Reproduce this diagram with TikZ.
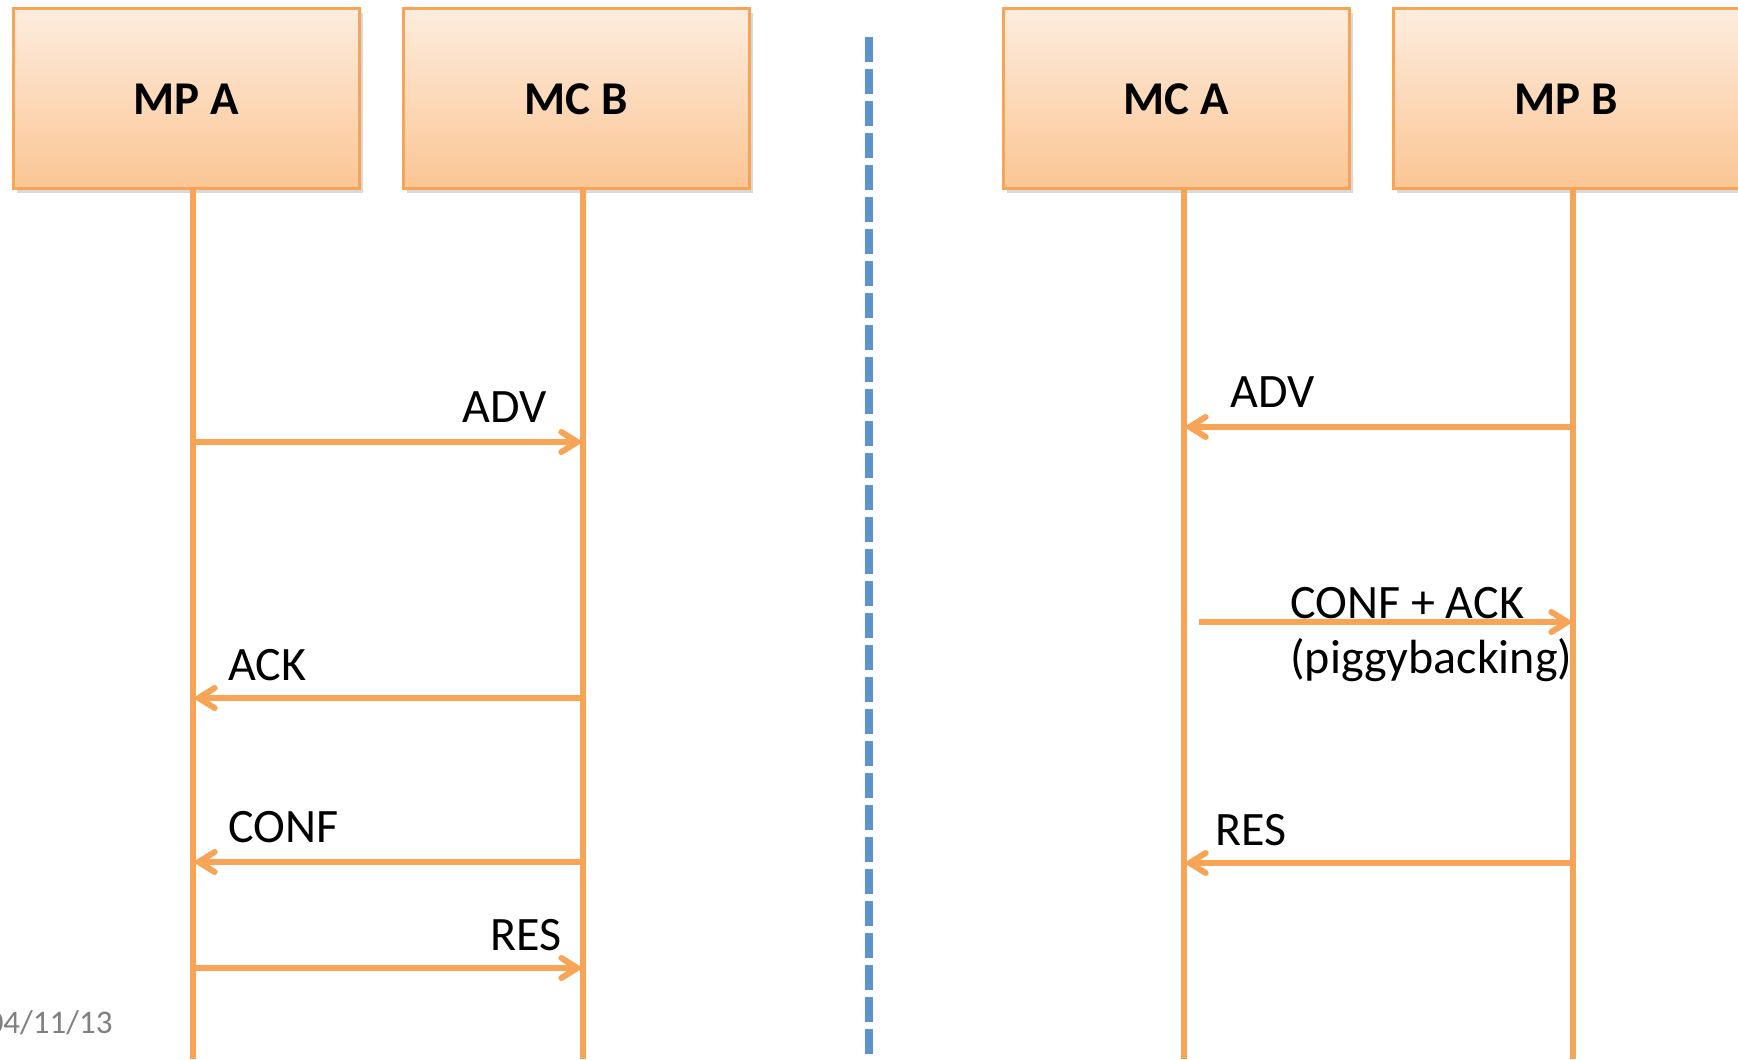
\documentclass[tikz,border=0pt]{standalone}
\usepackage{fontspec}
\setmainfont{Carlito}
\usetikzlibrary{arrows.meta,shadows}

\definecolor{boxline}{RGB}{248,164,86}
\definecolor{boxtop}{RGB}{253,236,222}
\definecolor{boxbot}{RGB}{251,198,148}
\definecolor{sepblue}{RGB}{91,148,205}
\definecolor{dategray}{RGB}{128,128,128}

\begin{document}
\begin{tikzpicture}[x=0.5pt,y=-0.5pt,>={Straight Barb[length=8pt,width=10pt,line cap=round]},
                    node distance=195pt,
    entity/.style={rectangle,draw=boxline,line width=1.5pt,top color=boxtop,bottom color=boxbot,
                   minimum width=173pt,minimum height=90pt,inner sep=0pt,
                   font=\fontsize{23.5}{28}\selectfont\bfseries,
                   drop shadow={shadow xshift=2pt,shadow yshift=-2pt,opacity=0.3}},
    life/.style={draw=boxline,line width=3pt},
    msg/.style={draw=boxline,line width=3pt,->},
    lbl/.style={font=\fontsize{24}{27.5}\selectfont,inner sep=0pt}]
  \useasboundingbox (0,0) rectangle (1738,1059);

  % the four parties
  \node[entity] (mpA) at (186,99) {MP A};
  \node[entity] (mcB) [right of=mpA] {MC B};
  \node[entity] (mcA) at (1176,99) {MC A};
  \node[entity] (mpB) [right of=mcA] {MP B};

  \coordinate (mpAend) at (193,1059);
  \coordinate (mcBend) at (583,1059);
  \coordinate (mcAend) at (1184,1059);
  \coordinate (mpBend) at (1573,1059);

  \draw[life] (mpAend |- mpA.south) -- (mpAend);
  \draw[life] (mcBend |- mcB.south) -- (mcBend);
  \draw[life] (mcAend |- mcA.south) -- (mcAend);
  \draw[life] (mpBend |- mpB.south) -- (mpBend);

  % separator
  \coordinate (septop) at (869,37);
  \coordinate (sepbot) at (869,1059);
  \draw[sepblue,line width=4pt,dash pattern=on 12.5pt off 3.5pt] (septop) -- (sepbot);

  % left: separate messages
  \coordinate (advA) at (193,442);  \coordinate (advB) at (583,442);
  \coordinate (ackA) at (193,698);  \coordinate (ackB) at (583,698);
  \coordinate (confA) at (193,862); \coordinate (confB) at (583,862);
  \coordinate (resA) at (193,968);  \coordinate (resB) at (583,968);

  \draw[msg] (advA) -- (advB);
  \draw[msg] (ackB) -- (ackA);
  \draw[msg] (confB) -- (confA);
  \draw[msg] (resA) -- (resB);

  \node[lbl,anchor=base east] (advL) at (547,422) {ADV};
  \node[lbl,anchor=base west] (ackL) at (228,680) {ACK};
  \node[lbl,anchor=base west] (confL) at (228,842) {CONF};
  \node[lbl,anchor=base east] (resL) at (562,950) {RES};

  % right: piggybacking
  \coordinate (advC) at (1184,427);  \coordinate (advD) at (1573,427);
  \coordinate (caC) at (1199,622);   \coordinate (caD) at (1573,622);
  \coordinate (resC) at (1184,863);  \coordinate (resD) at (1573,863);

  \draw[msg] (advD) -- (advC);
  \draw[msg] (caC) -- (caD);
  \draw[msg] (resD) -- (resC);

  \node[lbl,anchor=base west] (advR) at (1230,407) {ADV};
  \node[lbl,anchor=base west,align=left] (caR) at (1290,673) {CONF + ACK\\(piggybacking)};
  \node[lbl,anchor=base west] (resR) at (1215,845) {RES};

  \node[font=\fontsize{16.5}{20}\selectfont,text=dategray,inner sep=0pt,anchor=base east]
    (date) at (113,1033) {04/11/13};
\end{tikzpicture}
\end{document}
